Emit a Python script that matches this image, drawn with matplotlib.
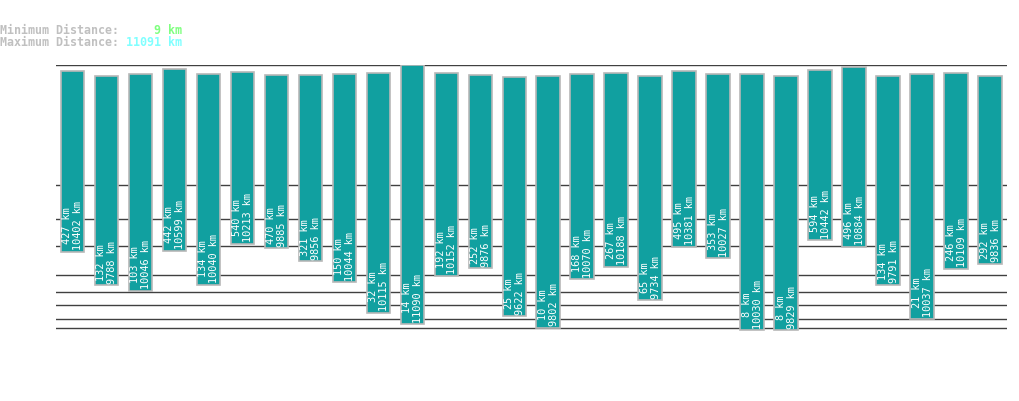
import matplotlib
matplotlib.use("Agg")
import matplotlib.pyplot as plt
import matplotlib.transforms as mtransforms
import numpy as np

# per-bar closest / farthest distances (km)
min_km = [427, 132, 103, 442, 134, 540, 470, 321, 150, 32, 14, 192, 252, 25,
          10, 168, 267, 65, 495, 353, 8, 8, 594, 496, 134, 21, 246, 292]
max_km = [10402, 9788, 10046, 10599, 10040, 10213, 9885, 9856, 10044, 10115,
          11090, 10152, 9876, 9622, 9802, 10070, 10188, 9734, 10381, 10027,
          10030, 9829, 10442, 10884, 9791, 10037, 10109, 9836]
grid_km = [10, 20, 50, 100, 200, 500, 1000, 2000]
overall_min = 9
overall_max = 11091

POW = 0.3
TEAL = "#11a0a0"
MONO = "DejaVu Sans Mono"


def fwd(v):
    v = np.asarray(v, dtype=float)
    return np.sign(v) * np.abs(v) ** POW


def inv(u):
    u = np.asarray(u, dtype=float)
    return np.sign(u) * np.abs(u) ** (1.0 / POW)


W, H = 1019, 402
fig = plt.figure(figsize=(W / 100, H / 100), dpi=100)
fig.patch.set_facecolor("white")

# axes box in pixels: x 55.5..1007.3, y 66..365.5 (from top)
ax = fig.add_axes([55.5 / W, (H - 365.5) / H, 951.8 / W, 299.5 / H])
ax.set_yscale("function", functions=(fwd, inv))
ax.set_ylim(0, overall_max)
ax.set_xlim(-0.5, len(min_km) - 0.5)
ax.axis("off")

for g in grid_km + [overall_max]:
    ax.axhline(g, color="#404040", lw=1.0, zorder=1)

xs = np.arange(len(min_km))
heights = [hi - lo for lo, hi in zip(min_km, max_km)]
ax.bar(xs, heights, bottom=min_km, width=0.7, color=TEAL,
       edgecolor="#b8b8b8", linewidth=1.2, zorder=2)

up = mtransforms.offset_copy(ax.transData, fig=fig, x=0, y=2.5, units="dots")
for x, lo, hi in zip(xs, min_km, max_km):
    ax.text(x, lo, "{} km\n{} km".format(lo, hi), rotation=90,
            ha="center", va="bottom", multialignment="center",
            color="white", fontsize=7.4, family=MONO, linespacing=1.1,
            transform=up, zorder=3)

# header
hdr = dict(fontsize=8.4, family=MONO, fontweight="bold", va="center")
fig.text(0, 1 - 31 / H, "Minimum Distance:", color="#c0c0c0", ha="left", **hdr)
fig.text(0, 1 - 43 / H, "Maximum Distance:", color="#c0c0c0", ha="left", **hdr)
fig.text(182 / W, 1 - 31 / H, "{} km".format(overall_min), color="#80ff80",
         ha="right", **hdr)
fig.text(182 / W, 1 - 43 / H, "{} km".format(overall_max), color="#80ffff",
         ha="right", **hdr)

fig.savefig("out.png", dpi=100)
